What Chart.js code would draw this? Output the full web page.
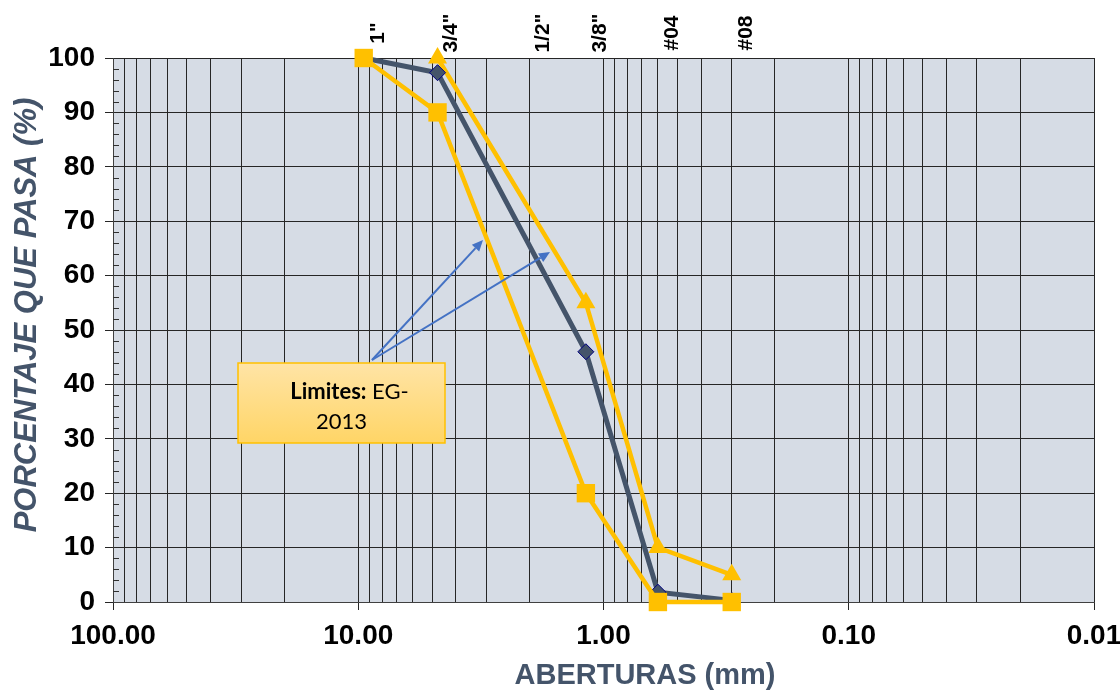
<!DOCTYPE html>
<html>
<head>
<meta charset="utf-8">
<script src="https://cdn.jsdelivr.net/npm/chart.js@4"></script>
<style>
  body { margin: 0; background: #fff; }
  #wrap { width: 1120px; height: 690px; position: relative; }
</style>
</head>
<body>
<div id="wrap"><canvas id="curva"></canvas></div>
<script>
// tamices (mm) y sus nombres
const tamices = ['1"', '3/4"', '1/2"', '3/8"', '#04', '#08'];
const aberturas = [9.5, 4.75, 2.0, 1.18, 0.6, 0.3];

// porcentaje que pasa
const muestra = [100, 97.3, null, 46, 1.8, 0.3];
const limiteSup = [null, 100, null, 55, 10, 5];
const limiteInf = [100, 90, null, 20, 0, 0];

const yTicks = [0, 10, 20, 30, 40, 50, 60, 70, 80, 90, 100];

function puntos(valores) {
    return aberturas.map((x, i) => ({ x: x, y: valores[i] })).filter(p => p.y !== null);
}

function esDecada(v) {
    const l = Math.log10(v);
    return Math.abs(l - Math.round(l)) < 1e-9;
}

const fondo = {
    id: 'fondo',
    beforeDraw(chart) {
        const { ctx, chartArea: a } = chart;
        ctx.save();
        ctx.fillStyle = '#D6DCE5';
        ctx.fillRect(a.left, a.top, a.right - a.left, a.bottom - a.top);
        ctx.restore();
    },
    beforeDatasetsDraw(chart) {
        // marcas menores del eje Y (por dentro)
        const { ctx, chartArea: a } = chart;
        const y = chart.scales.y;
        ctx.save();
        ctx.strokeStyle = '#303030';
        ctx.lineWidth = 1;
        for (let v = 0; v <= 100; v += 2) {
            if (v % 10 === 0) continue;
            const py = Math.round(y.getPixelForValue(v)) + 0.5;
            ctx.beginPath();
            ctx.moveTo(a.left, py);
            ctx.lineTo(a.left + 6, py);
            ctx.stroke();
        }
        ctx.restore();
    },
    afterDatasetsDraw(chart) {
        const { ctx } = chart;
        ctx.save();
        // flechas
        ctx.strokeStyle = '#4472C4';
        ctx.fillStyle = '#4472C4';
        ctx.lineWidth = 2;
        const origen = [372, 360];
        [[483, 240], [550, 252]].forEach(([tx, ty]) => {
            const ang = Math.atan2(ty - origen[1], tx - origen[0]);
            const bx = tx - Math.cos(ang) * 11, by = ty - Math.sin(ang) * 11;
            ctx.beginPath();
            ctx.moveTo(origen[0], origen[1]);
            ctx.lineTo(bx, by);
            ctx.stroke();
            ctx.beginPath();
            ctx.moveTo(tx, ty);
            ctx.lineTo(bx + Math.sin(ang) * 5, by - Math.cos(ang) * 5);
            ctx.lineTo(bx - Math.sin(ang) * 5, by + Math.cos(ang) * 5);
            ctx.closePath();
            ctx.fill();
        });
        // cuadro de texto
        const bx = 238, by = 363, bw = 207, bh = 80;
        const g = ctx.createLinearGradient(0, by, 0, by + bh);
        g.addColorStop(0, '#FFE4A6');
        g.addColorStop(1, '#FFD566');
        ctx.fillStyle = g;
        ctx.fillRect(bx, by, bw, bh);
        ctx.strokeStyle = '#FFC000';
        ctx.lineWidth = 1.5;
        ctx.strokeRect(bx, by, bw, bh);
        ctx.fillStyle = '#000';
        ctx.textBaseline = 'middle';
        ctx.font = 'bold 22px Lato';
        const t1 = 'Limites:';
        const w1 = ctx.measureText(t1).width;
        ctx.font = '22px Lato';
        const t2 = ' EG-';
        const w2 = ctx.measureText(t2).width;
        const sx = bx + bw / 2 - (w1 + w2) / 2 + 8;
        ctx.font = 'bold 22px Lato';
        ctx.textAlign = 'left';
        ctx.fillText(t1, sx, by + 29);
        ctx.font = '22px Lato';
        ctx.fillText(t2, sx + w1, by + 29);
        ctx.textAlign = 'center';
        ctx.fillText('2013', bx + bw / 2, by + 59);
        ctx.restore();
    },
    afterDraw(chart) {
        const { ctx } = chart;
        const x = chart.scales.x;
        ctx.save();
        // nombres de los tamices arriba
        ctx.fillStyle = '#000';
        ctx.font = 'bold 21px "Liberation Sans"';
        ctx.textAlign = 'center';
        ctx.textBaseline = 'middle';
        tamices.forEach((t, i) => {
            const px = x.getPixelForValue(aberturas[i]) + 14;
            ctx.save();
            ctx.translate(px, 33);
            ctx.rotate(-Math.PI / 2);
            ctx.fillText(t, 0, 0);
            ctx.restore();
        });
        // titulos de los ejes
        ctx.fillStyle = '#44546A';
        ctx.font = 'bold 29px "Liberation Sans"';
        ctx.fillText('ABERTURAS (mm)', 645, 676);
        ctx.translate(27, 315);
        ctx.rotate(-Math.PI / 2);
        ctx.font = 'italic bold 31px "Liberation Sans"';
        ctx.fillText('PORCENTAJE QUE PASA (%)', 0, 0);
        ctx.restore();
    }
};

new Chart(document.getElementById('curva'), {
    type: 'scatter',
    data: {
        datasets: [
            {
                label: 'Limite inferior',
                data: puntos(limiteInf),
                showLine: true,
                borderColor: '#FFC000',
                backgroundColor: '#FFC000',
                borderWidth: 4.5,
                pointStyle: 'rect',
                pointRadius: 13,
                pointBorderWidth: 0,
                clip: false
            },
            {
                label: 'Muestra',
                data: puntos(muestra),
                showLine: true,
                borderColor: '#44546A',
                backgroundColor: '#44546A',
                borderWidth: 5,
                pointStyle: 'rectRot',
                pointRadius: 8,
                pointBorderColor: '#000080',
                pointBorderWidth: 1,
                clip: false
            },
            {
                label: 'Limite superior',
                data: puntos(limiteSup),
                showLine: true,
                borderColor: '#FFC000',
                backgroundColor: '#FFC000',
                borderWidth: 4.5,
                pointStyle: 'triangle',
                pointRadius: 11,
                pointBorderWidth: 0,
                clip: false
            }
        ]
    },
    options: {
        responsive: true,
        maintainAspectRatio: false,
        animation: false,
        layout: { padding: { top: 58, right: 26, bottom: 0, left: 0 } },
        plugins: {
            legend: { display: false },
            tooltip: { enabled: false }
        },
        scales: {
            x: {
                type: 'logarithmic',
                reverse: true,
                min: 0.01,
                max: 100,
                afterBuildTicks(scale) {
                    const t = [];
                    for (let e = -2; e <= 1; e++) {
                        for (let m = 1; m <= 9; m++) {
                            t.push({ value: Number((m * Math.pow(10, e)).toPrecision(3)) });
                        }
                    }
                    t.push({ value: 100 });
                    scale.ticks = t;
                },
                afterFit(scale) {
                    scale.height = 88;
                    scale.paddingLeft = 0;
                    scale.paddingRight = 0;
                },
                ticks: {
                    autoSkip: false,
                    maxRotation: 0,
                    padding: 9,
                    color: '#000',
                    font: { family: '"Liberation Sans"', size: 28, weight: 'bold' },
                    callback: (v) => esDecada(v) ? Number(v).toFixed(2) : ''
                },
                grid: {
                    color: '#262626',
                    lineWidth: 1,
                    tickLength: 8,
                    tickColor: (c) => (c.tick && esDecada(c.tick.value)) ? '#262626' : 'rgba(0,0,0,0)'
                },
                border: { color: '#404040', width: 1 }
            },
            y: {
                min: 0,
                max: 100,
                afterBuildTicks(scale) {
                    scale.ticks = yTicks.map(v => ({ value: v }));
                },
                afterFit(scale) {
                    scale.width = 113;
                },
                ticks: {
                    padding: 10,
                    color: '#000',
                    font: { family: '"Liberation Sans"', size: 28, weight: 'bold' }
                },
                grid: {
                    color: '#262626',
                    lineWidth: 1,
                    tickLength: 8,
                    tickColor: '#262626'
                },
                border: { color: '#404040', width: 1 }
            }
        }
    },
    plugins: [fondo]
});
</script>
</body>
</html>
